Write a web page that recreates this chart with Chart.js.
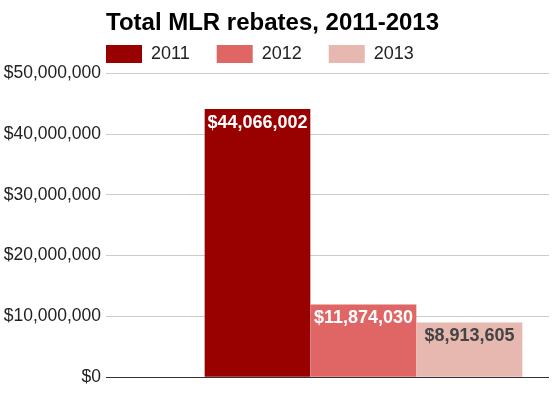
<!DOCTYPE html>
<html>
<head>
<meta charset="utf-8">
<script src="https://cdn.jsdelivr.net/npm/chart.js@4.4.1/dist/chart.umd.min.js"></script>
<style>
  html, body { margin: 0; padding: 0; background: #fff; }
  #wrap { width: 552px; height: 399px; }
</style>
</head>
<body>
<div id="wrap"><canvas id="chart" width="552" height="399"></canvas></div>
<script>
// values
const years = ['2011', '2012', '2013'];
const rebates = [44066002, 11874030, 8913605];
const yTicks = [0, 10000000, 20000000, 30000000, 40000000, 50000000];

const barColors = ['#990000', '#e06666', '#e6b8af'];
const labelColors = ['#ffffff', '#ffffff', '#444444'];
const FONT = "Arial, 'Liberation Sans', sans-serif";
const LEGEND_PAD = 27;

function money(v) {
    return '$' + Math.round(v).toLocaleString('en-US');
}

// draws the value inside the top of each bar
const barLabels = {
    id: 'barLabels',
    afterDatasetsDraw(chart) {
        const ctx = chart.ctx;
        ctx.save();
        ctx.font = 'bold 18px ' + FONT;
        ctx.textAlign = 'center';
        ctx.textBaseline = 'top';
        chart.data.datasets.forEach((ds, i) => {
            const meta = chart.getDatasetMeta(i);
            meta.data.forEach((bar, j) => {
                ctx.fillStyle = labelColors[i];
                ctx.fillText(money(ds.data[j].y), bar.x, bar.y + 4.5);
            });
        });
        ctx.restore();
    }
};

// pull the legend flush with the plot's left edge, right under the title
const legendPlace = {
    id: 'legendPlace',
    afterLayout(chart) {
        const lg = chart.legend;
        lg.left = chart.chartArea.left - LEGEND_PAD;
        lg.right = chart.chartArea.right;
        lg.width = lg.right - lg.left;
        lg.top = 45 - LEGEND_PAD;
        lg.bottom = 70;
        lg.height = lg.bottom - lg.top;
    }
};

const datasets = years.map((yr, i) => ({
    label: yr,
    data: [{ x: i, y: rebates[i] }],
    backgroundColor: barColors[i],
    borderWidth: 0,
    barThickness: 105,
    grouped: false
}));

// pixel spacing between bars is 106, plot spans 106..549
const unit = 106;
const xMin = -(257.5 - 106) / unit;
const xMax = (years.length - 1) + (549 - 469.5) / unit;

new Chart(document.getElementById('chart'), {
    type: 'bar',
    data: { datasets: datasets },
    options: {
        responsive: false,
        animation: false,
        layout: { padding: { top: 0, right: 3, bottom: 22, left: 0 } },
        plugins: {
            tooltip: { enabled: false },
            title: {
                display: true,
                text: 'Total MLR rebates, 2011-2013',
                align: 'start',
                fullSize: false,
                color: '#000',
                font: { family: FONT, size: 24, weight: 'bold', lineHeight: 1.2 },
                padding: { top: 9, bottom: 0 }
            },
            legend: {
                display: true,
                align: 'start',
                fullSize: false,
                maxHeight: 35.5,
                labels: {
                    boxWidth: 36,
                    boxHeight: 18,
                    padding: LEGEND_PAD,
                    color: '#222',
                    font: { family: FONT, size: 18 }
                }
            }
        },
        scales: {
            x: {
                type: 'linear',
                min: xMin,
                max: xMax,
                offset: false,
                display: false
            },
            y: {
                min: 0,
                max: 50000000,
                afterBuildTicks(scale) {
                    scale.ticks = yTicks.map(v => ({ value: v }));
                },
                afterFit(scale) { scale.width = 106; },
                border: { display: false },
                grid: {
                    color: ctx => ctx.tick.value === 0 ? '#333' : '#cccccc',
                    lineWidth: 1,
                    drawTicks: false
                },
                ticks: {
                    padding: 5,
                    color: '#222',
                    font: { family: FONT, size: 17.5 },
                    callback: v => money(v)
                }
            }
        }
    },
    plugins: [legendPlace, barLabels]
});
</script>
</body>
</html>
